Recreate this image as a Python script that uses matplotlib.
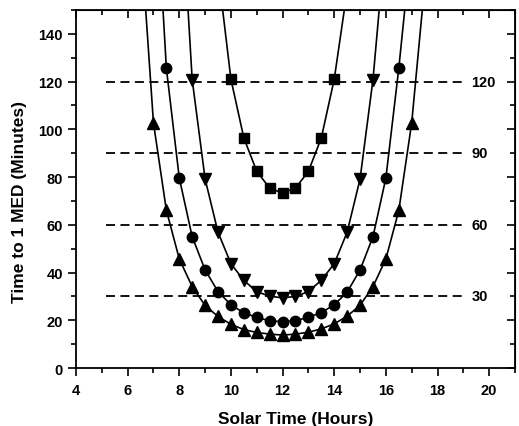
import matplotlib
matplotlib.use("Agg")
import matplotlib.pyplot as plt
from matplotlib.ticker import MultipleLocator

plt.rcParams["font.family"] = ["Liberation Sans", "DejaVu Sans"]
plt.rcParams["font.weight"] = "bold"

# solar time (hours) and time to 1 MED (minutes)
sq_x = [10, 10.5, 11, 11.5, 12, 12.5, 13, 13.5, 14]
sq_y = [121, 96.4, 82.4, 75.4, 73.3, 75.4, 82.4, 96.4, 121]

ci_x = [7.5, 8, 8.5, 9, 9.5, 10, 10.5, 11, 11.5, 12, 12.5, 13, 13.5, 14,
        14.5, 15, 15.5, 16, 16.5]
ci_y = [125.6, 79.6, 55.0, 41.1, 32.0, 26.5, 23.1, 21.2, 19.8, 19.4, 19.8,
        21.3, 23.2, 26.5, 31.8, 41.1, 55.0, 79.6, 125.6]

dn_x = [8.5, 9, 9.5, 10, 10.5, 11, 11.5, 12, 12.5, 13, 13.5, 14, 14.5, 15, 15.5]
dn_y = [120.8, 79.2, 56.9, 43.7, 36.7, 32.0, 30.1, 29.4, 30.0, 32.0, 36.8,
        43.7, 56.9, 79.2, 120.8]

up_x = [7, 7.5, 8, 8.5, 9, 9.5, 10, 10.5, 11, 11.5, 12, 12.5, 13, 13.5, 14,
        14.5, 15, 15.5, 16, 16.5, 17]
up_y = [102.7, 66.1, 45.7, 34.1, 26.2, 21.6, 18.3, 16.1, 14.9, 14.2, 13.8,
        14.2, 15.0, 16.4, 18.5, 21.7, 26.3, 34.1, 45.7, 66.0, 102.7]

# where each curve leaves the top of the plot (y = 150)
sq_edge = [9.68, 14.39]
ci_edge = [7.37, 16.73]
dn_edge = [8.34, 15.74]
up_edge = [6.70, 17.41]

ref_levels = [120, 90, 60, 30]
ref_span = [5.18, 19.1]

xticks = [4, 6, 8, 10, 12, 14, 16, 18, 20]
yticks = [0, 20, 40, 60, 80, 100, 120, 140]

fig = plt.figure(figsize=(5.19, 4.27), dpi=100)
ax = fig.add_axes([0.1464, 0.1358, 0.8459, 0.8384])

series = [(sq_x, sq_y, sq_edge, "s", 6.5),
          (ci_x, ci_y, ci_edge, "o", 7.5),
          (dn_x, dn_y, dn_edge, "v", 8),
          (up_x, up_y, up_edge, "^", 8)]
for x, y, edge, m, ms in series:
    ax.plot([edge[0]] + x + [edge[1]], [150] + y + [150], color="black", lw=1.2)
    ax.plot(x, y, linestyle="none", marker=m, ms=ms, color="black")

for lev in ref_levels:
    ax.plot(ref_span, [lev, lev], color="black", lw=1.3, linestyle=(0, (5, 3)))
    ax.text(ref_span[1] + 0.22, lev, str(lev), fontsize=10.5, fontweight="bold",
            ha="left", va="center")

ax.set_xlim(4, 21)
ax.set_ylim(0, 150)
ax.set_xticks(xticks)
ax.set_yticks(yticks)
ax.xaxis.set_minor_locator(MultipleLocator(1))
ax.yaxis.set_minor_locator(MultipleLocator(10))

ax.tick_params(which="both", direction="out", width=1.2, labelsize=10.5)
ax.tick_params(which="major", length=6)
ax.tick_params(which="minor", length=3.5)
ax.tick_params(axis="x", which="major", pad=5)
for lab in ax.get_xticklabels() + ax.get_yticklabels():
    lab.set_fontweight("bold")
for s in ax.spines.values():
    s.set_linewidth(1.3)

# mirrored ticks on top and right point inward
ax2 = ax.secondary_xaxis("top")
ax2.set_xticks(xticks, labels=[])
ax2.xaxis.set_minor_locator(MultipleLocator(1))
ax2.tick_params(which="both", direction="in", width=1.2)
ax2.tick_params(which="major", length=6)
ax2.tick_params(which="minor", length=3.5)
ax3 = ax.secondary_yaxis("right")
ax3.set_yticks(yticks, labels=[])
ax3.yaxis.set_minor_locator(MultipleLocator(10))
ax3.tick_params(which="both", direction="in", width=1.2)
ax3.tick_params(which="major", length=6)
ax3.tick_params(which="minor", length=3.5)

ax.set_xlabel("Solar Time (Hours)", fontsize=12.5, fontweight="bold", labelpad=10)
ax.set_ylabel("Time to 1 MED (Minutes)", fontsize=12.5, fontweight="bold")
ax.yaxis.set_label_coords(-0.128, 0.466)
ax.yaxis.label.set_va("center")

fig.savefig("out.png", dpi=100)
